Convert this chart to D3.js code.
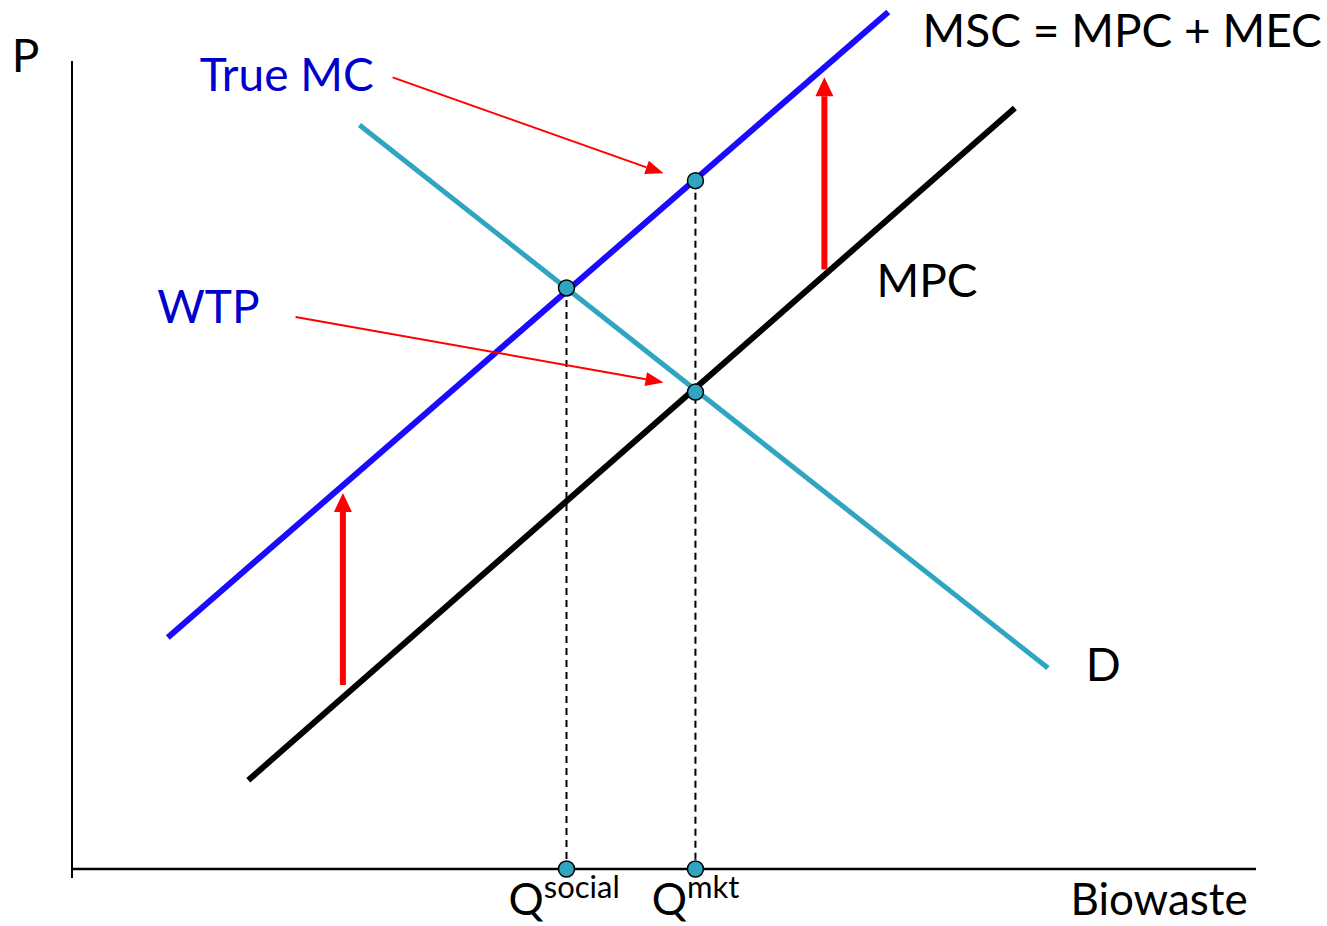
<!DOCTYPE html>
<html>
<head>
<meta charset="utf-8">
<script src="https://cdn.jsdelivr.net/npm/d3@7"></script>
<style>
  body { margin: 0; background: #fff; }
  svg text { font-family: Lato, "Open Sans", sans-serif; }
</style>
</head>
<body>
<svg></svg>
<script>
// curves as [quantity, price] endpoints (chart units 0-100)
const mscLine = [[8.1, 28.7], [69.0, 106.2]];
const mpcLine = [[14.9, 11.0], [79.7, 94.3]];
const demandLine = [[24.3, 92.2], [82.5, 24.9]];

// equilibrium points [q, p]
const qSocial = 41.8, qMarket = 52.7;
const points = [[qSocial, 72.0], [qMarket, 59.1], [qMarket, 85.3]];
const axisPoints = [qSocial, qMarket];

// vertical shift arrows (MEC), [q, from p, to p]
const shiftArrows = [[22.9, 22.8, 46.6], [63.6, 74.3, 98.1]];
// pointer arrows [from q, from p, to q, to p]
const pointers = [[27.1, 98.1, 50.0, 86.2], [18.9, 68.4, 50.0, 60.3]];

// text labels [text, q, p, colour]
const labels = [
  ["P", -5.1, 98.8, "#000"],
  ["True MC", 10.8, 96.4, "#0000cc"],
  ["WTP", 7.2, 67.7, "#0000cc"],
  ["MSC = MPC + MEC", 71.9, 101.9, "#000"],
  ["MPC", 68.0, 70.9, "#000"],
  ["D", 85.7, 23.3, "#000"]
];
const xTitle = ["Biowaste", 84.4];
const qLabels = [["Q", "social", 36.9], ["Q", "mkt", 49.0]];

const svg = d3.select("svg")
  .attr("width", 1327)
  .attr("height", 926);

const x = d3.scaleLinear().domain([0, 100]).range([72, 1255]);
const y = d3.scaleLinear().domain([0, 100]).range([869, 62]);

const line = d3.line()
  .x(d => x(d[0]))
  .y(d => y(d[1]));

// axes
svg.append("line")
  .attr("x1", x(0)).attr("x2", x(0))
  .attr("y1", y(0) + 9).attr("y2", y(100) - 1)
  .attr("stroke", "#000").attr("stroke-width", 2);
svg.append("line")
  .attr("x1", x(0)).attr("x2", x(100) + 1)
  .attr("y1", y(0)).attr("y2", y(0))
  .attr("stroke", "#000").attr("stroke-width", 2.5);

// dashed drop lines
svg.selectAll("line.drop")
  .data([points[0], points[2]])
  .enter()
  .append("line")
  .attr("class", "drop")
  .attr("x1", d => x(d[0])).attr("x2", d => x(d[0]))
  .attr("y1", d => y(d[1])).attr("y2", y(0))
  .attr("stroke", "#000")
  .attr("stroke-width", 2)
  .attr("stroke-dasharray", "7,5");

// curves
svg.append("path").attr("d", line(demandLine))
  .attr("stroke", "#2fa5c1").attr("stroke-width", 5).attr("fill", "none");
svg.append("path").attr("d", line(mpcLine))
  .attr("stroke", "#000").attr("stroke-width", 6).attr("fill", "none");
svg.append("path").attr("d", line(mscLine))
  .attr("stroke", "#1a0aff").attr("stroke-width", 6).attr("fill", "none");

// arrow helper: shortens shaft so the head sits at the tip
function arrow(x1, y1, x2, y2, width, headLen, headW) {
  const dx = x2 - x1, dy = y2 - y1;
  const len = Math.sqrt(dx * dx + dy * dy);
  const ux = dx / len, uy = dy / len;
  const bx = x2 - ux * headLen, by = y2 - uy * headLen;
  svg.append("line")
    .attr("x1", x1).attr("y1", y1).attr("x2", bx).attr("y2", by)
    .attr("stroke", "#ff0000").attr("stroke-width", width);
  const px = -uy * headW / 2, py = ux * headW / 2;
  svg.append("path")
    .attr("d", `M${x2},${y2}L${bx + px},${by + py}L${bx - px},${by - py}Z`)
    .attr("fill", "#ff0000");
}

shiftArrows.forEach(d => arrow(x(d[0]), y(d[1]), x(d[0]), y(d[2]), 6, 19, 18));
pointers.forEach(d => arrow(x(d[0]), y(d[1]), x(d[2]), y(d[3]), 2, 18, 14));

// points
svg.selectAll("circle.pt")
  .data(points)
  .enter()
  .append("circle")
  .attr("class", "pt")
  .attr("cx", d => x(d[0]))
  .attr("cy", d => y(d[1]))
  .attr("r", 8)
  .attr("fill", "#2fa5c1")
  .attr("stroke", "#000")
  .attr("stroke-width", 1.5);

svg.selectAll("circle.ax")
  .data(axisPoints)
  .enter()
  .append("circle")
  .attr("class", "ax")
  .attr("cx", d => x(d))
  .attr("cy", y(0))
  .attr("r", 8)
  .attr("fill", "#2fa5c1")
  .attr("stroke", "#000")
  .attr("stroke-width", 1.5);

// labels
svg.selectAll("text.lbl")
  .data(labels)
  .enter()
  .append("text")
  .attr("class", "lbl")
  .attr("x", d => x(d[1]))
  .attr("y", d => y(d[2]))
  .attr("font-size", 46)
  .attr("fill", d => d[3])
  .text(d => d[0]);

// x axis title, kept inside the bottom edge
svg.append("text")
  .attr("x", x(xTitle[1]))
  .attr("y", y(0) + 46)
  .attr("font-size", 44)
  .text(xTitle[0]);

const qText = svg.selectAll("text.q")
  .data(qLabels)
  .enter()
  .append("text")
  .attr("class", "q")
  .attr("x", d => x(d[2]))
  .attr("y", y(0) + 46)
  .attr("font-size", 44);
qText.append("tspan").text(d => d[0]);
qText.append("tspan")
  .attr("dy", -17)
  .attr("font-size", 31)
  .text(d => d[1]);
</script>
</body>
</html>
